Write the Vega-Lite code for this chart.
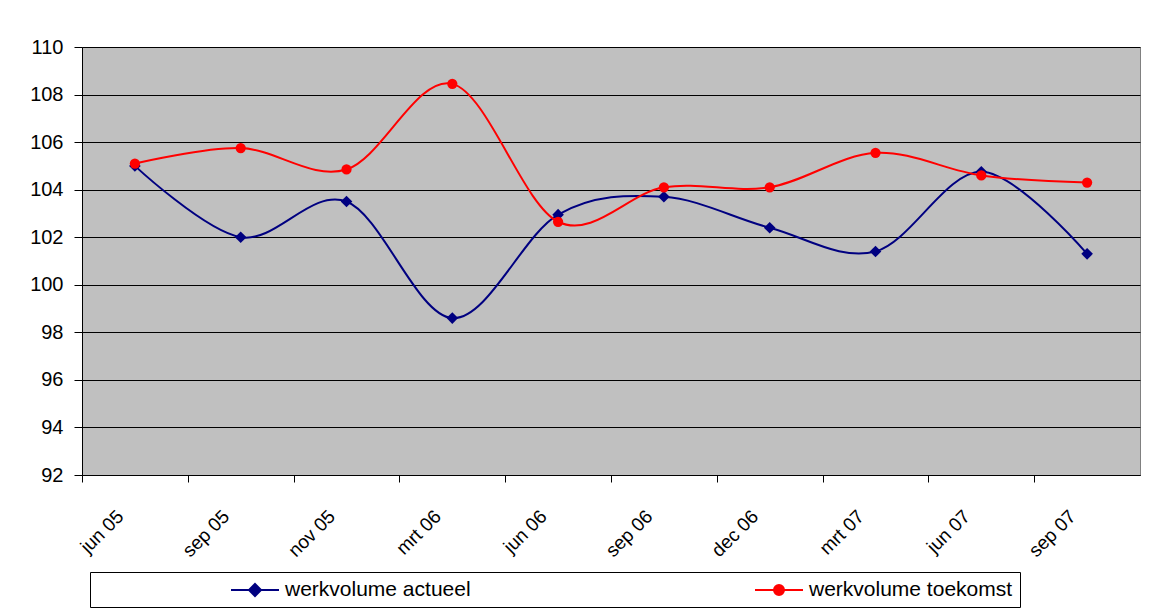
{
  "$schema": "https://vega.github.io/schema/vega-lite/v6.json",
  "width": 1058,
  "height": 428,
  "autosize": {"type": "none"},
  "padding": {"left": 82, "top": 47, "right": 13, "bottom": 133},
  "background": "white",
  "config": {
    "font": "Liberation Sans",
    "view": {"fill": "#C0C0C0", "stroke": "#808080", "strokeWidth": 1}
  },
  "data": {
    "values": [
      {"maand": "jun 05", "reeks": "werkvolume actueel", "waarde": 105.0},
      {"maand": "sep 05", "reeks": "werkvolume actueel", "waarde": 102.0},
      {"maand": "nov 05", "reeks": "werkvolume actueel", "waarde": 103.5},
      {"maand": "mrt 06", "reeks": "werkvolume actueel", "waarde": 98.6},
      {"maand": "jun 06", "reeks": "werkvolume actueel", "waarde": 102.95},
      {"maand": "sep 06", "reeks": "werkvolume actueel", "waarde": 103.7},
      {"maand": "dec 06", "reeks": "werkvolume actueel", "waarde": 102.4},
      {"maand": "mrt 07", "reeks": "werkvolume actueel", "waarde": 101.4},
      {"maand": "jun 07", "reeks": "werkvolume actueel", "waarde": 104.75},
      {"maand": "sep 07", "reeks": "werkvolume actueel", "waarde": 101.3},
      {"maand": "jun 05", "reeks": "werkvolume toekomst", "waarde": 105.1},
      {"maand": "sep 05", "reeks": "werkvolume toekomst", "waarde": 105.75},
      {"maand": "nov 05", "reeks": "werkvolume toekomst", "waarde": 104.85},
      {"maand": "mrt 06", "reeks": "werkvolume toekomst", "waarde": 108.45},
      {"maand": "jun 06", "reeks": "werkvolume toekomst", "waarde": 102.65},
      {"maand": "sep 06", "reeks": "werkvolume toekomst", "waarde": 104.1},
      {"maand": "dec 06", "reeks": "werkvolume toekomst", "waarde": 104.1},
      {"maand": "mrt 07", "reeks": "werkvolume toekomst", "waarde": 105.55},
      {"maand": "jun 07", "reeks": "werkvolume toekomst", "waarde": 104.6},
      {"maand": "sep 07", "reeks": "werkvolume toekomst", "waarde": 104.3}
    ]
  },
  "encoding": {
    "x": {
      "field": "maand",
      "type": "ordinal",
      "sort": null,
      "scale": {"type": "point", "padding": 0.5},
      "axis": {
        "title": null,
        "labelAngle": -45,
        "labelAlign": "right",
        "labelBaseline": "middle",
        "labelFontSize": 19,
        "labelColor": "black",
        "labelPadding": 31,
        "tickOffset": -52.9,
        "labelOffset": 38,
        "tickSize": 7,
        "tickColor": "black",
        "domainColor": "black",
        "grid": false
      }
    },
    "y": {
      "field": "waarde",
      "type": "quantitative",
      "scale": {"domain": [92, 110], "nice": false, "zero": false},
      "axis": {
        "title": null,
        "values": [92, 94, 96, 98, 100, 102, 104, 106, 108, 110],
        "labelFontSize": 20,
        "labelColor": "black",
        "labelPadding": 11,
        "tickSize": 8,
        "tickColor": "black",
        "domainColor": "black",
        "grid": true,
        "gridColor": "black",
        "gridOpacity": 1,
        "gridWidth": 1
      }
    }
  },
  "layer": [
    {
      "transform": [{"filter": "datum.reeks === 'werkvolume actueel'"}],
      "mark": {"type": "line", "interpolate": "cardinal", "tension": 0, "strokeWidth": 2, "color": "#000080"}
    },
    {
      "transform": [{"filter": "datum.reeks === 'werkvolume toekomst'"}],
      "mark": {"type": "line", "interpolate": "cardinal", "tension": 0, "strokeWidth": 2, "color": "#FF0000"}
    },
    {
      "transform": [{"filter": "datum.reeks === 'werkvolume actueel'"}],
      "mark": {"type": "point", "filled": true, "opacity": 1, "size": 135, "shape": "diamond", "color": "#000080"}
    },
    {
      "transform": [{"filter": "datum.reeks === 'werkvolume toekomst'"}],
      "mark": {"type": "point", "filled": true, "opacity": 1, "size": 105, "shape": "circle", "color": "#FF0000"}
    },
    {
      "transform": [{"filter": "datum.waarde > 1000"}],
      "mark": {"type": "point", "filled": true, "opacity": 1, "strokeWidth": 2},
      "encoding": {
        "color": {
          "field": "reeks",
          "type": "nominal",
          "scale": {"domain": ["werkvolume actueel", "werkvolume toekomst"], "range": ["#000080", "#FF0000"]},
          "legend": {
            "orient": "none",
            "legendX": 8,
            "legendY": 525,
            "direction": "horizontal",
            "title": " ",
            "titleOrient": "left",
            "titlePadding": 147,
            "strokeColor": "black",
            "fillColor": "white",
            "padding": 7,
            "symbolSize": 400,
            "symbolStrokeWidth": 2,
            "symbolOpacity": 1,
            "labelFontSize": 21,
            "labelColor": "black",
            "labelLimit": 0,
            "labelOffset": 19,
            "columnPadding": 280,
            "labelExpr": "datum.label === 'werkvolume toekomst' ? datum.label + '\u00a0\u00a0\u00a0\u00a0\u00a0\u00a0\u00a0\u00a0\u00a0\u00a0\u00a0\u00a0\u00a0\u00a0\u00a0\u00a0\u00a0\u00a0\u00a0\u00a0\u00a0' : datum.label"
          }
        },
        "stroke": {
          "field": "reeks",
          "type": "nominal",
          "scale": {"domain": ["werkvolume actueel", "werkvolume toekomst"], "range": ["#000080", "#FF0000"]}
        },
        "shape": {
          "field": "reeks",
          "type": "nominal",
          "scale": {"domain": ["werkvolume actueel", "werkvolume toekomst"], "range": ["M-2.4,0H2.4M0,-0.6L0.6,0L0,0.6L-0.6,0Z", "M-2.4,0H2.4M0.5,0A0.5,0.5 0 1,1 -0.5,0A0.5,0.5 0 1,1 0.5,0Z"]}
        }
      }
    }
  ]
}
